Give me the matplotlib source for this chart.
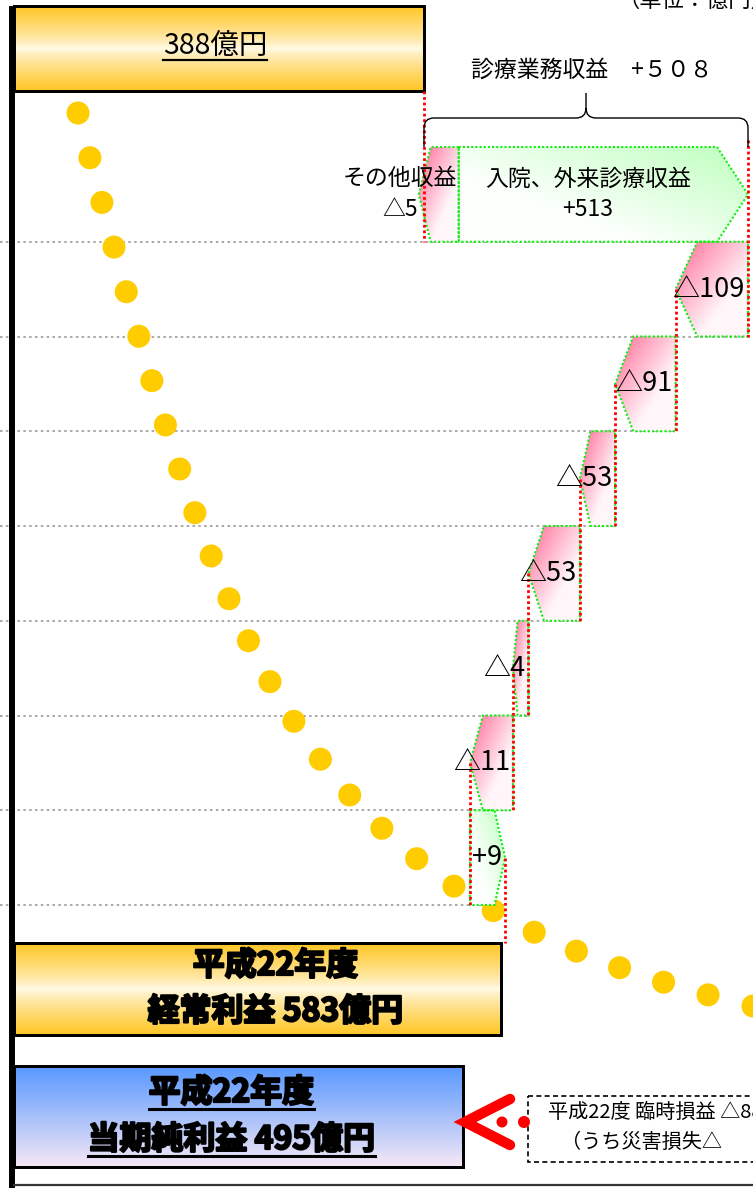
import numpy as np
import matplotlib
matplotlib.use('Agg')
import matplotlib.pyplot as plt
from matplotlib.patches import Polygon, Circle, Rectangle, PathPatch
from matplotlib.path import Path
from matplotlib.transforms import Affine2D
import matplotlib.patheffects as pe

plt.rcParams['font.family'] = ['Noto Sans CJK JP', 'DejaVu Sans']

W, H = 753, 1188

# 億円
prev_profit = 388
bracket_title = '診療業務収益'
revenue_names = ['その他収益', '入院、外来診療収益']
revenue_values = [-5, 513]
step_values = [-109, -91, -53, -53, -4, -11, 9]
ordinary_profit = 583
net_profit = 495
year_label = '平成22年度'
ordinary_label = '経常利益'
net_label = '当期純利益'
note_lines = ['平成22度 臨時損益 △{}億円', '（うち災害損失△']
unit_label = '（単位：億円）'

# piecewise value axis (not to scale, like the printed chart)
value_knots = [0, 388, 495, 575, 595, 896]
pixel_knots = [14, 424, 463, 470, 548, 748]


def _pw(v, xk, yk):
    v = np.asarray(v, dtype=float)
    out = np.interp(v, xk, yk)
    lo = (yk[1] - yk[0]) / (xk[1] - xk[0])
    hi = (yk[-1] - yk[-2]) / (xk[-1] - xk[-2])
    out = np.where(v < xk[0], yk[0] + (v - xk[0]) * lo, out)
    out = np.where(v > xk[-1], yk[-1] + (v - xk[-1]) * hi, out)
    return out


def to_px(v):
    return _pw(v, value_knots, pixel_knots)


def from_px(p):
    return _pw(p, pixel_knots, value_knots)


fig = plt.figure(figsize=(W / 100, H / 100), dpi=100)
ax = fig.add_axes([0, 0, 1, 1])
ax.set_xscale('function', functions=(to_px, from_px))
ax.set_xlim(float(from_px(0)), float(from_px(W)))
ax.set_ylim(H, 0)
ax.axis('off')
px_tr = Affine2D().scale(1.0 / W, -1.0 / H).translate(0, 1) + fig.transFigure

PINK = np.array([255, 105, 148]) / 255
PINK_L = np.array([255, 246, 250]) / 255
GREEN = np.array([190, 255, 190]) / 255
GREEN_L = np.array([252, 255, 252]) / 255
GOLD = np.array([255, 198, 38]) / 255
CREAM = np.array([255, 250, 232]) / 255
BLUE = np.array([88, 152, 255]) / 255
LAVENDER = np.array([246, 232, 246]) / 255
EDGE_GREEN = '#11EE11'


def gradient(kind, n=80):
    u, v = np.meshgrid(np.linspace(0, 1, n), np.linspace(0, 1, n))
    if kind == 'pink':
        t, c0, c1 = np.clip(0.75 * u + 0.75 * v, 0, 1), PINK, PINK_L
    elif kind == 'green':
        t, c0, c1 = np.clip(0.8 * (1 - u) + 0.7 * v, 0, 1), GREEN, GREEN_L
    elif kind == 'gold':
        t, c0, c1 = 1 - np.abs(2 * v - 1) ** 0.8, GOLD, CREAM
    else:
        t, c0, c1 = v, BLUE, LAVENDER
    t = t[..., None]
    return c0 * (1 - t) + c1 * t


def fill_patch(patch, kind, x0, x1, y0, y1, z=2):
    ax.add_patch(patch)
    im = ax.imshow(gradient(kind), extent=(x0, x1, y1, y0), transform=px_tr,
                   aspect='auto', interpolation='bilinear', zorder=z)
    im.set_clip_path(patch)


def pentagon(x_flat, x_tip, top, bot, depth):
    # arrow-like box: flat edge at x_flat, pointed edge at x_tip (pixels)
    s = np.sign(x_tip - x_flat)
    mid = (top + bot) / 2
    pts = [(x_flat, top), (x_tip - s * depth, top), (x_tip, mid),
           (x_tip - s * depth, bot), (x_flat, bot)]
    return [(float(from_px(x)), y) for x, y in pts]


def box(v0, v1, y0, y1, kind, lw=1.5):
    rect = Rectangle((v0, y0), v1 - v0, y1 - y0, facecolor='none',
                     edgecolor='black', lw=lw, zorder=3)
    fill_patch(rect, kind, float(to_px(v0)), float(to_px(v1)), y0, y1)
    ax.add_patch(Rectangle((v0, y0), v1 - v0, y1 - y0, facecolor='none',
                           edgecolor='black', lw=lw, zorder=3))


def fmt(v):
    return ('△' if v < 0 else '+') + str(abs(v))


def red_line(v, y0, y1):
    ax.plot([v, v], [y0, y1], color='#FF0000', lw=2, ls=(0, (1, 1)), zorder=4,
            solid_capstyle='butt')


renderer = fig.canvas.get_renderer()


def underline(txt, lw=1.6, off=2):
    bb = txt.get_window_extent(renderer)
    y = H - bb.y0 - off
    ax.plot([bb.x0, bb.x1], [y, y], transform=px_tr, color='black', lw=lw, zorder=6)


# layout (pixels from top)
TOP_BOX = (6, 91)
ROW_TOP, ROW_BOTTOM = 147, 905
ORD_BOX = (943, 1035)
NET_BOX = (1066, 1167)
BADGE_W = 40
n_rows = 1 + len(step_values)
row_h = (ROW_BOTTOM - ROW_TOP) / n_rows


def row_top(k):
    return ROW_TOP + k * row_h


# cumulative levels
rev_total = sum(revenue_values)
levels = [prev_profit + rev_total]
for v in step_values:
    levels.append(levels[-1] + v)
starts = [prev_profit] + levels[:-1]

# ---- decorative dotted arrow ----
P = np.array([[78, 113], [222, 653], [285, 898], [753, 1006]], dtype=float)
s = np.linspace(0, 1, 3000)[:, None]
bez = (1 - s) ** 3 * P[0] + 3 * (1 - s) ** 2 * s * P[1] + 3 * (1 - s) * s ** 2 * P[2] + s ** 3 * P[3]
arc = np.concatenate([[0], np.cumsum(np.hypot(*np.diff(bez, axis=0).T))])
n_dots = int(round(arc[-1] / 46.5))
targets = np.linspace(0, arc[-1], n_dots + 1)
for xd, yd in zip(np.interp(targets, arc, bez[:, 0]), np.interp(targets, arc, bez[:, 1])):
    ax.add_patch(Circle((xd, yd), 11.5, transform=px_tr, color='#FFCC00', lw=0, zorder=1.5))

# ---- top box: previous year ----
box(0, prev_profit, TOP_BOX[0], TOP_BOX[1], 'gold', lw=2)
t = ax.text(float(to_px(prev_profit / 2)) - 4, 47, f'{prev_profit}億円', transform=px_tr,
            ha='center', va='center', fontsize=20.5, zorder=6)
underline(t)

ax.text(618, 0, unit_label, transform=px_tr, ha='left', va='center', fontsize=16, zorder=6)

# ---- brace over the medical revenue row ----
x0, x1 = float(to_px(prev_profit)), float(to_px(levels[0]))
xm = (x0 + x1) / 2
yb, yh, yt, r = ROW_TOP, 118, 93, 10
verts = [(x0, yb), (x0, yh + r), (x0, yh), (x0 + r, yh), (xm - r, yh), (xm, yh), (xm, yh - r), (xm, yt),
         (xm, yh - r), (xm, yh), (xm + r, yh), (x1 - r, yh), (x1, yh), (x1, yh + r), (x1, yb)]
codes = [Path.MOVETO, Path.LINETO, Path.CURVE3, Path.CURVE3, Path.LINETO, Path.CURVE3, Path.CURVE3,
         Path.LINETO, Path.MOVETO, Path.CURVE3, Path.CURVE3, Path.LINETO, Path.CURVE3, Path.CURVE3,
         Path.LINETO]
ax.add_patch(PathPatch(Path(verts, codes), transform=px_tr, facecolor='none', edgecolor='black',
                       lw=1, zorder=5))
fw = str(rev_total).translate(str.maketrans('0123456789', '０１２３４５６７８９'))
ax.text(xm + 6, 70, f'{bracket_title}　+{fw}', transform=px_tr, ha='center', va='center',
        fontsize=16.5, zorder=6)

# ---- row 0: revenue breakdown ----
top0, bot0 = row_top(0), row_top(1)
mid0 = (top0 + bot0) / 2
tip_other = float(to_px(prev_profit + revenue_values[0]))
badge_r = tip_other + BADGE_W
green_poly = Polygon(pentagon(badge_r, x1, top0, bot0, 31), closed=True, facecolor='none',
                     edgecolor=EDGE_GREEN, lw=1.5, ls=(0, (1, 1)), zorder=3)
fill_patch(green_poly, 'green', badge_r, x1, top0, bot0)
pink_poly = Polygon(pentagon(badge_r, tip_other, top0, bot0, 12), closed=True, facecolor='none',
                    edgecolor=EDGE_GREEN, lw=1.5, ls=(0, (1, 1)), zorder=3)
fill_patch(pink_poly, 'pink', tip_other, badge_r, top0, bot0)
ax.text(tip_other - 19, mid0, f'{revenue_names[0]}\n{fmt(revenue_values[0])}', transform=px_tr,
        ha='center', va='center', fontsize=16.5, linespacing=1.45, zorder=6)
ax.text((badge_r + x1 - 31) / 2, mid0, f'{revenue_names[1]}\n{fmt(revenue_values[1])}',
        transform=px_tr, ha='center', va='center', fontsize=16.5, linespacing=1.45, zorder=6)

# ---- rows 1..: waterfall steps ----
right_edges = [x1]
for k, (v, a, b) in enumerate(zip(step_values, starts[1:], levels[1:]), start=1):
    top, bot = row_top(k), row_top(k + 1)
    xs, xe = float(to_px(a)), float(to_px(b))
    depth = min(0.3 * abs(xs - xe), 30)
    poly = Polygon(pentagon(xs, xe, top, bot, depth), closed=True, facecolor='none',
                   edgecolor=EDGE_GREEN, lw=1.5, ls=(0, (1, 1)), zorder=3)
    fill_patch(poly, 'pink' if v < 0 else 'green', min(xs, xe), max(xs, xe), top, bot)
    right_edges.append(max(xs, xe))
    ax.text(max(xs, xe) - 3, (top + bot) / 2, fmt(v), transform=px_tr, ha='right', va='center',
            fontsize=19.5, zorder=6)

# gray row separators
for k in range(n_rows):
    reach = max(right_edges[k:k + 2])
    ax.plot([0, reach], [row_top(k + 1)] * 2, transform=px_tr, color='#9a9a9a', lw=1.2,
            ls=(0, (1.5, 2)), zorder=1)

# red connectors between levels
red_line(prev_profit, TOP_BOX[1], row_top(1))
red_line(levels[0], ROW_TOP - 7, row_top(2))
for k in range(1, n_rows):
    mid = (row_top(k) + row_top(k + 1)) / 2
    end = row_top(k + 2) if k + 1 < n_rows else ORD_BOX[0]
    red_line(levels[k], mid, end)

# ---- ordinary profit box ----
box(0, ordinary_profit, ORD_BOX[0], ORD_BOX[1], 'gold', lw=2)
cx = float(to_px(ordinary_profit)) / 2 + 25
bold = dict(fontsize=23, fontweight='bold', ha='center', va='center', zorder=6, transform=px_tr,
            path_effects=[pe.withStroke(linewidth=1.6, foreground='black')])
ax.text(cx, 966, year_label, **bold)
ax.text(cx, 1012, f'{ordinary_label} {ordinary_profit}億円', **bold)

# ---- net profit box ----
box(0, net_profit, NET_BOX[0], NET_BOX[1], 'blue', lw=2)
nx = float(to_px(net_profit)) / 2
ta = ax.text(nx, 1093, year_label, **bold)
tb = ax.text(nx, 1140, f'{net_label} {net_profit}億円', **bold)
underline(ta, lw=2.2, off=0)
underline(tb, lw=2.2, off=0)

# red chevron pointing at the net profit box
tip = float(to_px(net_profit)) + 2
ax.plot([tip + 45, tip, tip + 45], [1099, 1122, 1145], transform=px_tr, color='#FF0000', lw=7.5,
        solid_capstyle='round', solid_joinstyle='miter', zorder=5)
ax.add_patch(Circle((tip + 37, 1122), 5.5, transform=px_tr, color='#FF0000', lw=0, zorder=6))
ax.add_patch(Circle((tip + 59, 1122), 6, transform=px_tr, color='#FF0000', lw=0, zorder=6))

# dashed note box
ax.add_patch(Rectangle((528, 1096), 260, 66, transform=px_tr, facecolor='white', edgecolor='black',
                       lw=1.2, ls=(0, (3, 2)), zorder=4))
ax.text(548, 1112, note_lines[0].format(ordinary_profit - net_profit), transform=px_tr, ha='left',
        va='center', fontsize=14.5, zorder=6)
ax.text(561, 1142, note_lines[1], transform=px_tr, ha='left', va='center', fontsize=14.5, zorder=6)

# left axis bar and bottom rule
ax.plot([12, 12], [6, H], transform=px_tr, color='black', lw=4.3, zorder=7, solid_capstyle='butt')
ax.plot([14, W], [1185, 1185], transform=px_tr, color='#333333', lw=1.6, zorder=7)

ax.set_xlim(float(from_px(0)), float(from_px(W)))
ax.set_ylim(H, 0)
fig.savefig('out.png', dpi=100)
